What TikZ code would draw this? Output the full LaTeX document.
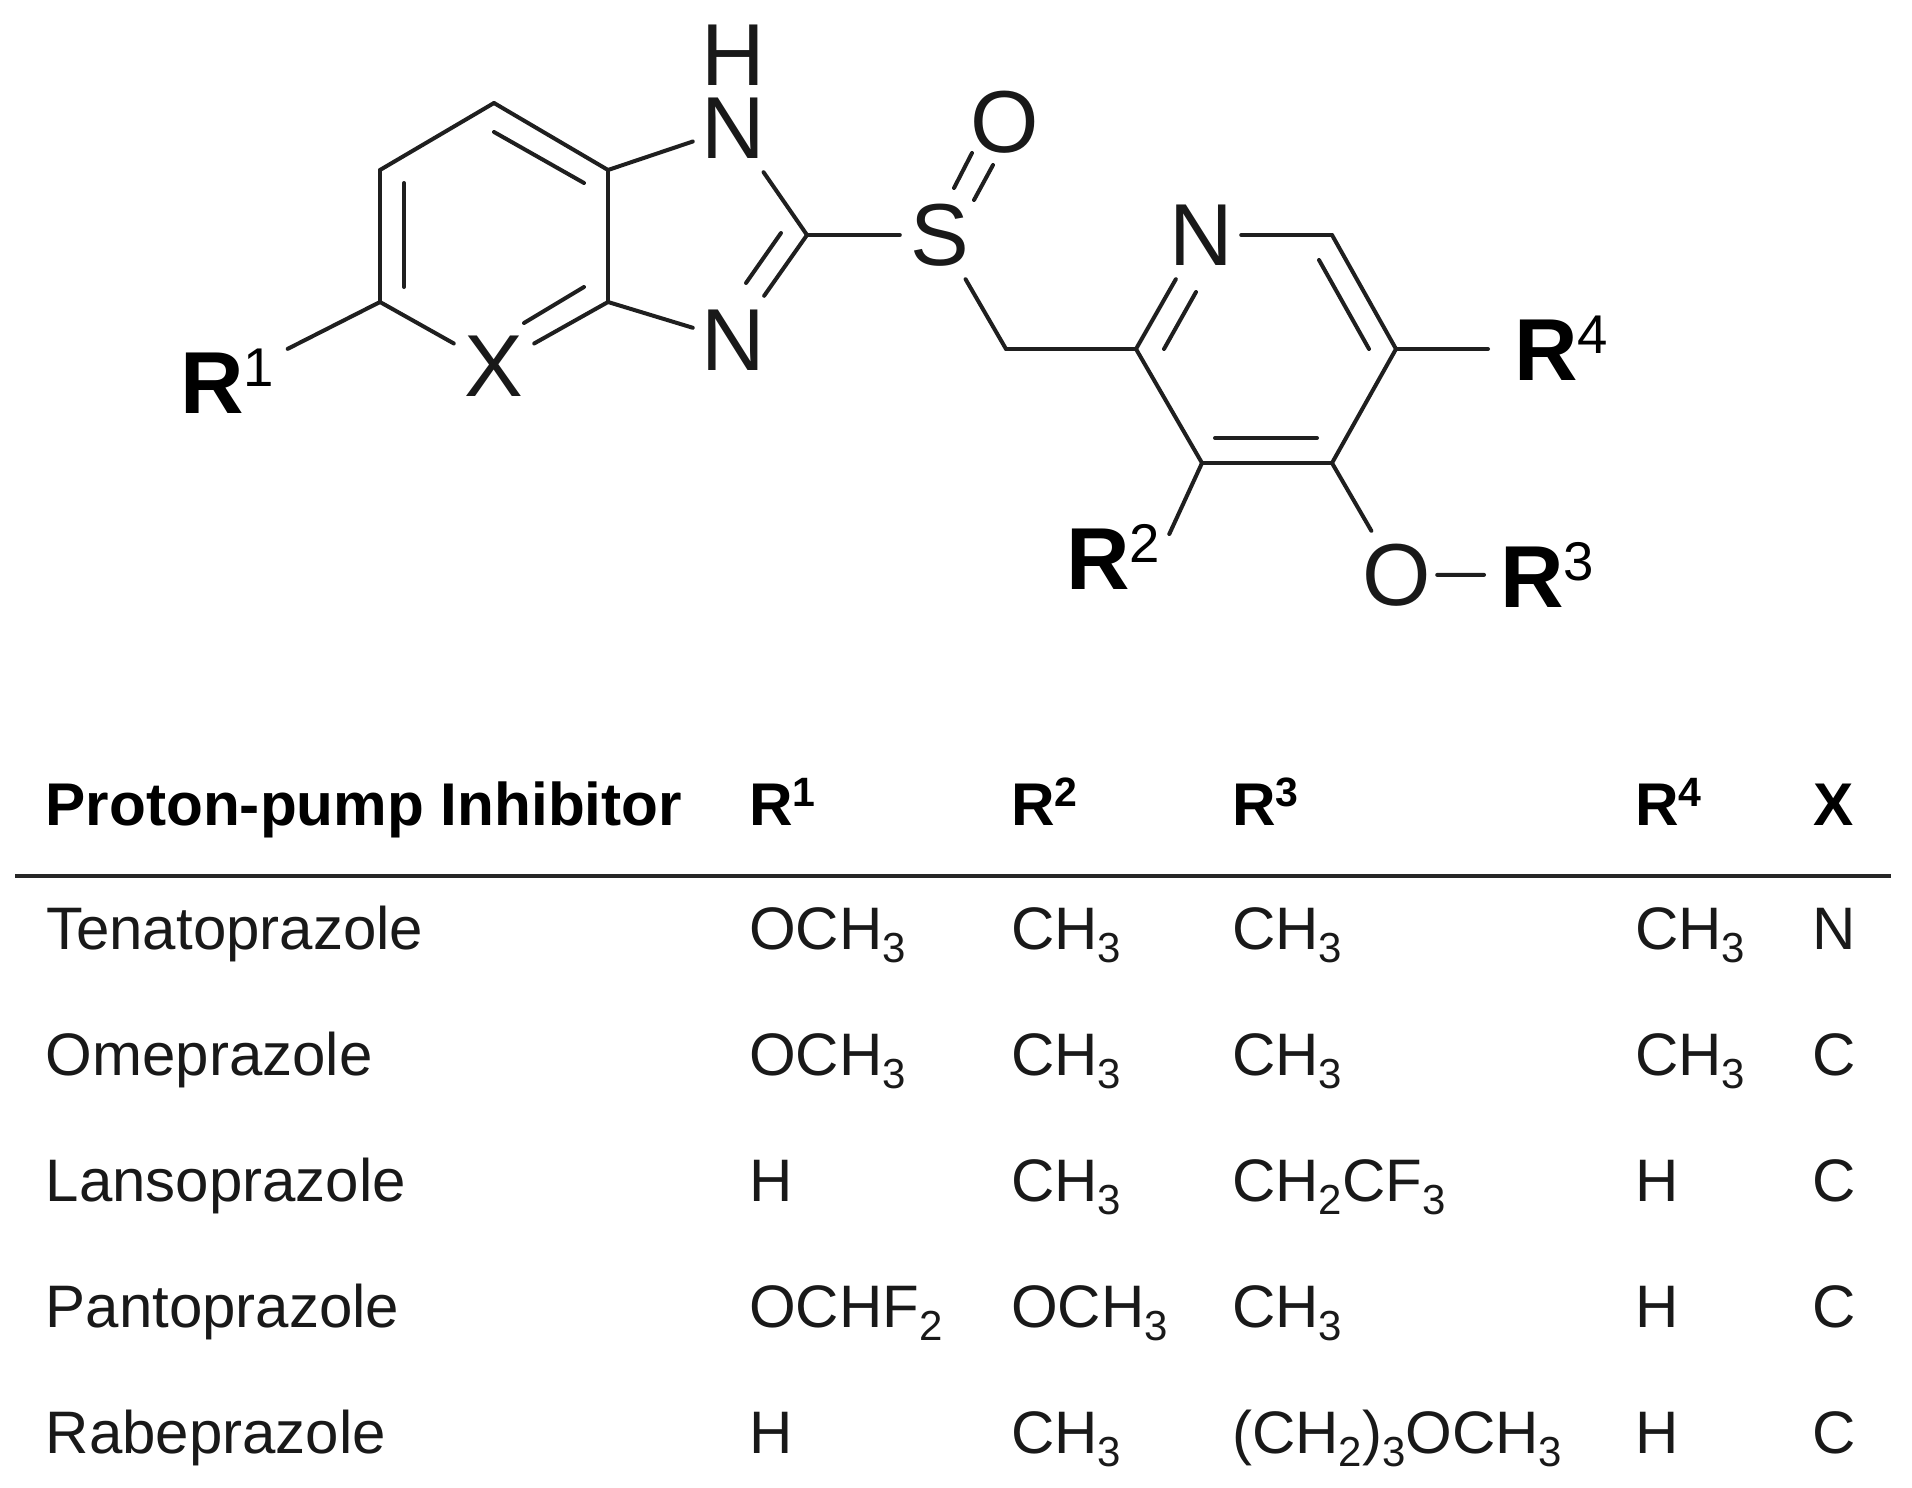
\documentclass[tikz,border=0pt]{standalone}
\usepackage{fontspec}
\setmainfont{Liberation Sans}
\usetikzlibrary{calc}
\newcommand{\up}[2][.62]{\raisebox{.3em}{\scalebox{#1}{#2}}}
\newcommand{\dn}[1]{\raisebox{-.22em}{\scalebox{.7}{#1}}}
\tikzset{
	bond/.style={line width=4pt, color=black!88, line cap=round},
	atom/.style={inner sep=0pt, minimum width=80pt, minimum height=88pt, font=\fontsize{88}{88}\selectfont, color=black!90},
	group/.style={anchor=base west, inner ysep=0pt, inner xsep=16pt, font=\fontsize{88}{88}\selectfont, color=black},
	cell/.style={anchor=base west, inner sep=0pt, font=\fontsize{60}{60}\selectfont, color=black!90},
	head/.style={cell, font=\fontsize{60.3}{60}\selectfont\bfseries, color=black}
}

\begin{document}
\begin{tikzpicture}[x=1pt, y=-1pt]
			\useasboundingbox (0, 0) rectangle (1912, 1488);
			
			%%%%% ATOMS %%%%%
			
			\coordinate (c1) at (494, 103);
			\coordinate (c2) at (380, 170);
			\coordinate (c3) at (380, 302);
			\coordinate (c4) at (608, 302);
			\coordinate (c5) at (608, 170);
			\coordinate (c6) at (807, 235);
			\coordinate (c7) at (1006, 349);
			\coordinate (c8) at (1136, 349);
			\coordinate (c9) at (1332, 235);
			\coordinate (c10) at (1396, 349);
			\coordinate (c11) at (1332, 463);
			\coordinate (c12) at (1202, 463);
			
			\node[atom] (x) at (494, 366) {X};
			\node[atom] (n1) at (733, 128) {N};
			\node[atom, minimum width=60pt, minimum height=60pt] (h1) at (733, 55) {H};
			\node[atom] (n3) at (733, 340) {N};
			\node[atom] (s) at (940, 235) {S};
			\node[atom] (o1) at (1005, 122) {O};
			\node[atom] (n4) at (1201, 235) {N};
			\node[atom] (o2) at (1397, 575) {O};
			
			\node[group] (r1) at (164, 413) {\textbf{R}\up{1}};
			\node[group, inner xsep=9pt] (r2) at (1057, 589) {\textbf{R}\up{2}};
			\node[group] (r3) at (1484, 607) {\textbf{R}\up{3}};
			\node[group] (r4) at (1498, 380) {\textbf{R}\up{4}};
			
			%%%%% SINGLE AND OUTER BONDS %%%%%
			
			\draw[bond] (c1) -- (c2);
			\draw[bond] (c2) -- (c3);
			\draw[bond] (c3) -- (x);
			\draw[bond] (x) -- (c4);
			\draw[bond] (c4) -- (c5);
			\draw[bond] (c5) -- (c1);
			\draw[bond] (c5) -- (n1);
			\draw[bond] (c4) -- (n3);
			\draw[bond] (n1) -- (c6);
			\draw[bond] (c6) -- (n3);
			\draw[bond] (c6) -- (s);
			\draw[bond] (s) -- (c7);
			\draw[bond] (c7) -- (c8);
			\draw[bond] (c8) -- (n4);
			\draw[bond] (n4.east) -- (c9);
			\draw[bond] (c9) -- (c10);
			\draw[bond] (c10) -- (c11);
			\draw[bond] (c11) -- (c12);
			\draw[bond] (c12) -- (c8);
			\draw[bond] (c11) -- (o2);
			\draw[bond] (o2) -- (r3);
			\draw[bond] (c3) -- (r1.28);
			\draw[bond] (c12) -- (r2.22);
			\draw[bond, shorten >=10pt] (c10) -- (r4.west |- c10);
			
			%%%%% INNER LINES OF THE DOUBLE BONDS %%%%%
			
			\coordinate (i1) at (494, 132);
			\coordinate (i2) at (584, 183);
			\draw[bond] (i1) -- (i2);
			\coordinate (i3) at (404, 183);
			\coordinate (i4) at (404, 287);
			\draw[bond] (i3) -- (i4);
			\coordinate (i5) at (584, 287);
			\coordinate (i6) at (524, 323);
			\draw[bond] (i5) -- (i6);
			\coordinate (i7) at (781, 233);
			\coordinate (i8) at (746, 283);
			\draw[bond] (i7) -- (i8);
			\coordinate (i9) at (1164, 349);
			\coordinate (i10) at (1196, 292);
			\draw[bond] (i9) -- (i10);
			\coordinate (i11) at (1319, 260);
			\coordinate (i12) at (1369, 349);
			\draw[bond] (i11) -- (i12);
			\coordinate (i13) at (1317, 438);
			\coordinate (i14) at (1215, 438);
			\draw[bond] (i13) -- (i14);
			
			\coordinate (so1) at (954, 188);
			\coordinate (so2) at (972, 153);
			\draw[bond] (so1) -- (so2);
			\coordinate (so3) at (974, 200);
			\coordinate (so4) at (993, 165);
			\draw[bond] (so3) -- (so4);
			
			%%%%% TABLE %%%%%
			
			\node[head] (hname) at (45.5, 825) {Proton-pump Inhibitor};
			\node[head] (hr1) at (749, 825) {R\up[.68]{1}};
			\node[head] (hr2) at (1011, 825) {R\up[.68]{2}};
			\node[head] (hr3) at (1232, 825) {R\up[.68]{3}};
			\node[head] (hr4) at (1635, 825) {R\up[.68]{4}};
			\node[head] (hx) at (1813, 825) {X};
			
			\coordinate (rulel) at (15, 876);
			\coordinate (ruler) at (1891, 876);
			\draw[line width=4pt, color=black!85] (rulel) -- (ruler);
			
			\node[cell] (a0) at (46, 949) {Tenatoprazole};
			\node[cell] (a1) at (749, 949) {OCH\dn{3}};
			\node[cell] (a2) at (1011, 949) {CH\dn{3}};
			\node[cell] (a3) at (1232, 949) {CH\dn{3}};
			\node[cell] (a4) at (1635, 949) {CH\dn{3}};
			\node[cell] (a5) at (1812, 949) {N};
			
			\node[cell] (b0) at (45.5, 1075) {Omeprazole};
			\node[cell] (b1) at (749, 1075) {OCH\dn{3}};
			\node[cell] (b2) at (1011, 1075) {CH\dn{3}};
			\node[cell] (b3) at (1232, 1075) {CH\dn{3}};
			\node[cell] (b4) at (1635, 1075) {CH\dn{3}};
			\node[cell] (b5) at (1812, 1075) {C};
			
			\node[cell] (c0) at (45.5, 1201) {Lansoprazole};
			\node[cell] (c1t) at (749, 1201) {H};
			\node[cell] (c2t) at (1011, 1201) {CH\dn{3}};
			\node[cell] (c3t) at (1232, 1201) {CH\dn{2}CF\dn{3}};
			\node[cell] (c4t) at (1635, 1201) {H};
			\node[cell] (c5t) at (1812, 1201) {C};
			
			\node[cell] (d0) at (45.5, 1327) {Pantoprazole};
			\node[cell] (d1) at (749, 1327) {OCHF\dn{2}};
			\node[cell] (d2) at (1011, 1327) {OCH\dn{3}};
			\node[cell] (d3) at (1232, 1327) {CH\dn{3}};
			\node[cell] (d4) at (1635, 1327) {H};
			\node[cell] (d5) at (1812, 1327) {C};
			
			\node[cell] (e0) at (45.5, 1453) {Rabeprazole};
			\node[cell] (e1) at (749, 1453) {H};
			\node[cell] (e2) at (1011, 1453) {CH\dn{3}};
			\node[cell] (e3) at (1232, 1453) {(CH\dn{2})\dn{3}OCH\dn{3}};
			\node[cell] (e4) at (1635, 1453) {H};
			\node[cell] (e5) at (1812, 1453) {C};
			
			%%%%% END %%%%%
		\end{tikzpicture}
\end{document}
